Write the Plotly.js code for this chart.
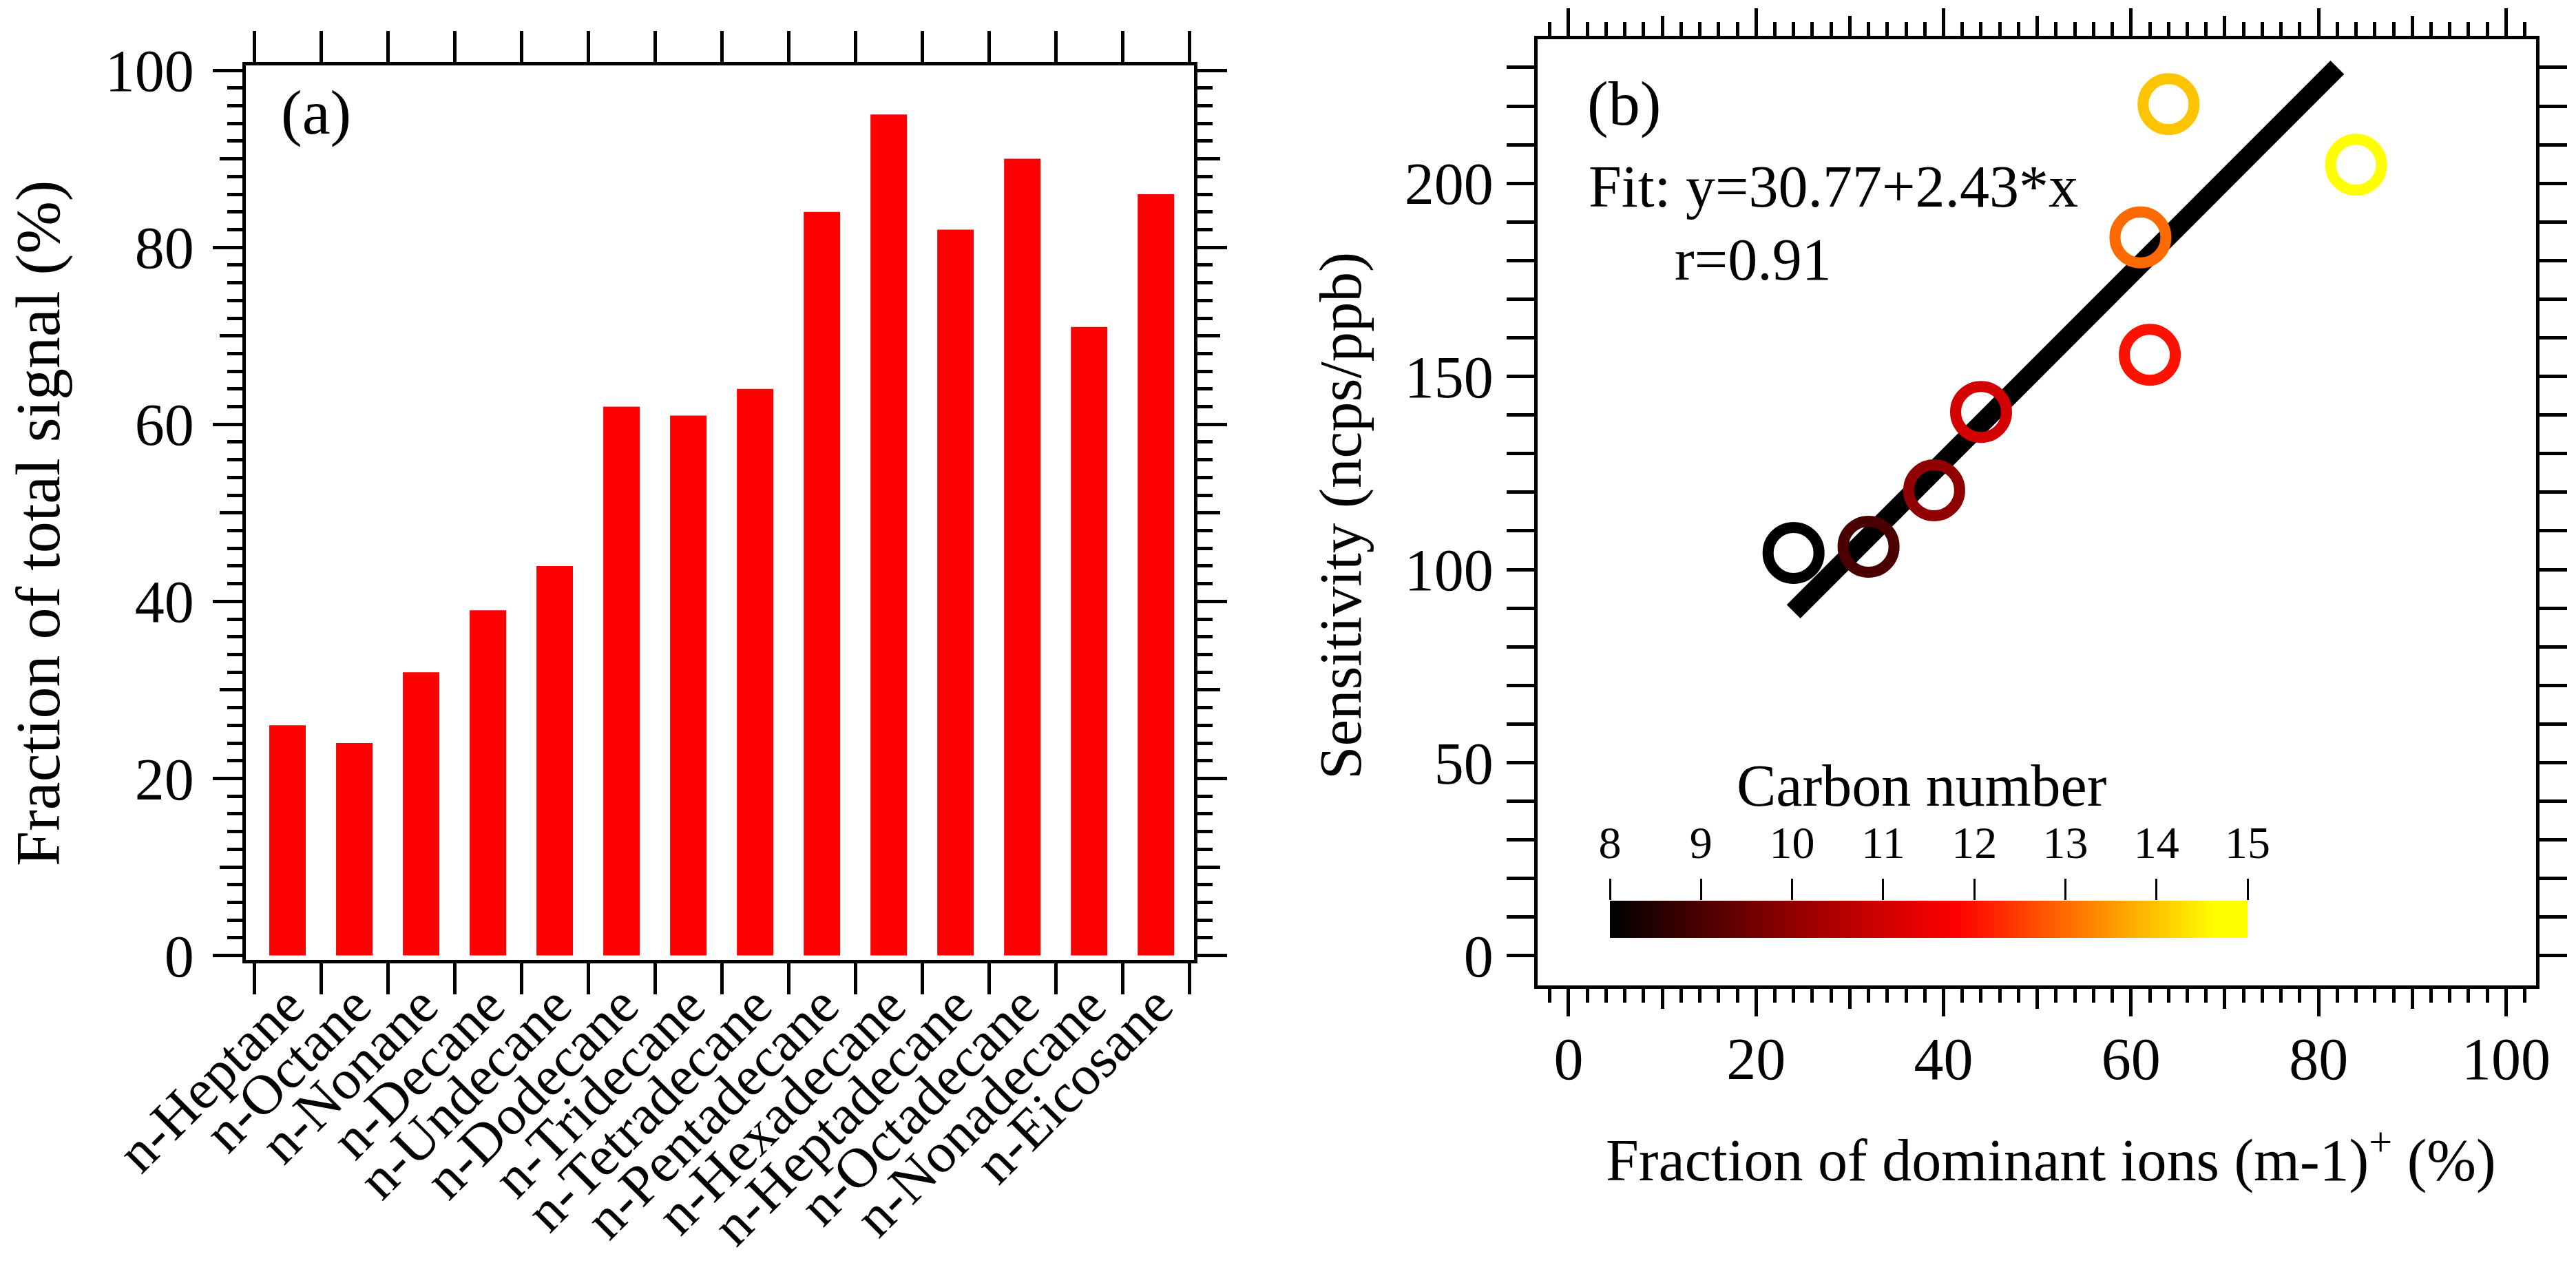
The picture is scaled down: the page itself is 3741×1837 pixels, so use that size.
<!DOCTYPE html>
<html>
<head>
<meta charset="utf-8">
<script src="https://cdn.plot.ly/plotly-3.0.1.min.js"></script>
<style>
  html, body { margin: 0; padding: 0; background: #fff; }
  #chart { width: 3741px; height: 1837px; }
</style>
</head>
<body>
<div id="chart"></div>
<script>
// (a) fraction of total signal per alkane
const compounds = ["n-Heptane", "n-Octane", "n-Nonane", "n-Decane", "n-Undecane",
  "n-Dodecane", "n-Tridecane", "n-Tetradecane", "n-Pentadecane", "n-Hexadecane",
  "n-Heptadecane", "n-Octadecane", "n-Nonadecane", "n-Eicosane"];
const fracSignal = [26, 24, 32, 39, 44, 62, 61, 64, 84, 95, 82, 90, 71, 86];

// (b) sensitivity vs fraction of dominant ions, coloured by carbon number
const carbonNum   = [8, 9, 10, 11, 12, 13, 14, 15];
const ionFrac     = [24, 32, 39, 44, 62, 61, 64, 84];
const sensitivity = [104.3, 105.9, 120.5, 140.8, 155.6, 186.0, 220.5, 204.8];

// linear fit as printed on the figure
const fitIntercept = 30.77;
const fitSlope = 2.43;
const fitX = [24, 82];

const W = 3741, H = 1837;
const px = v => v / W;            // page x pixel -> paper
const py = v => (H - v) / H;      // page y pixel -> paper

const FONT = "Liberation Serif, Times New Roman, serif";
const black = "#000";

const hotScale = [
  [0, "#000000"], [0.143, "#4a0000"], [0.286, "#900000"], [0.429, "#d20000"],
  [0.545, "#ff0000"], [0.714, "#ff6a00"], [0.857, "#ffc400"], [0.95, "#ffff00"],
  [1, "#ffff00"]
];

// colour bar geometry (page pixels)
const cbLeft = 2338, cbRight = 3264, cbTop = 1308, cbBottom = 1362;

const frame = {
  showline: true, linewidth: 5, linecolor: black, mirror: "allticks",
  ticks: "outside", tickwidth: 5, tickcolor: black,
  showgrid: false, zeroline: false, fixedrange: true,
};

const traces = [
  { type: "bar", x: compounds, y: fracSignal, xaxis: "x", yaxis: "y",
    marker: { color: "#ff0000", line: { width: 0 } }, hoverinfo: "skip" },
  // holder traces for the medium-tick overlay axes and the colour bar scale
  { type: "scatter", x: [], y: [], xaxis: "x", yaxis: "y3", hoverinfo: "skip" },
  { type: "scatter", x: [], y: [], xaxis: "x3", yaxis: "y2", hoverinfo: "skip" },
  { type: "scatter", x: [], y: [], xaxis: "x4", yaxis: "y4", hoverinfo: "skip" },
  { type: "scatter", mode: "lines", x: fitX, y: fitX.map(v => fitIntercept + fitSlope * v),
    xaxis: "x2", yaxis: "y2", line: { color: black, width: 28 }, hoverinfo: "skip" },
  { type: "scatter", mode: "markers", x: ionFrac, y: sensitivity,
    xaxis: "x2", yaxis: "y2", hoverinfo: "skip",
    marker: {
      symbol: "circle-open", size: 74, color: carbonNum,
      colorscale: hotScale, cmin: 8, cmax: 15, showscale: true,
      line: { width: 16 },
      colorbar: {
        orientation: "h", x: px((cbLeft + cbRight) / 2), xanchor: "center",
        y: py(cbBottom), yanchor: "bottom",
        len: cbRight - cbLeft, lenmode: "pixels",
        thickness: cbBottom - cbTop, thicknessmode: "pixels",
        outlinewidth: 0, xpad: 0, ypad: 0,
        ticks: "", showticklabels: false,
      },
    } },
];

const layout = {
  width: W, height: H,
  margin: { l: 0, r: 0, t: 0, b: 0 },
  paper_bgcolor: "#fff", plot_bgcolor: "#fff",
  font: { family: FONT, size: 86, color: black },
  showlegend: false,
  bargap: 0.454,
  xaxis: { ...frame, domain: [px(357), px(1734)], anchor: "y",
    type: "category", range: [-0.624, 13.57], tickson: "boundaries", dtick: 1,
    ticklen: 45, tickangle: -45, ticklabelstandoff: -20, tickfont: { size: 82 } },
  yaxis: { ...frame, domain: [py(1394), py(95)], anchor: "x",
    range: [-0.5, 100.55], tick0: 0, dtick: 20, ticklen: 43, ticklabelstandoff: 10,
    minor: { dtick: 2, ticks: "outside", ticklen: 22, tickwidth: 5, tickcolor: black, showgrid: false } },
  yaxis3: { ...frame, overlaying: "y", anchor: "x", side: "left", mirror: "ticks",
    range: [-0.5, 100.55], tick0: 0, dtick: 10, ticklen: 33, showticklabels: false },
  xaxis2: { ...frame, domain: [px(2233), px(3683)], anchor: "y2",
    range: [-3.3, 103.2], tick0: 0, dtick: 20, ticklen: 40, ticklabelstandoff: -12,
    minor: { dtick: 2, ticks: "outside", ticklen: 20, tickwidth: 5, tickcolor: black, showgrid: false } },
  xaxis3: { ...frame, overlaying: "x2", anchor: "y2", side: "bottom", mirror: "ticks",
    range: [-3.3, 103.2], tick0: 0, dtick: 10, ticklen: 29, showticklabels: false },
  yaxis2: { ...frame, domain: [py(1431), py(57)], anchor: "x2",
    range: [-7.7, 237.3], tick0: 0, dtick: 50, ticklen: 40, ticklabelstandoff: 2,
    minor: { dtick: 10, ticks: "outside", ticklen: 20, tickwidth: 5, tickcolor: black, showgrid: false } },
  // scale printed above the colour bar
  xaxis4: { domain: [px(cbLeft), px(cbRight)], anchor: "y4", side: "top",
    range: [8, 15], tick0: 8, dtick: 1, ticks: "outside", ticklen: 31, tickwidth: 3,
    tickcolor: black, showline: false, showgrid: false, zeroline: false, fixedrange: true,
    tickfont: { size: 66 }, ticklabelstandoff: 4 },
  yaxis4: { domain: [py(cbBottom), py(cbTop)], anchor: "x4", range: [0, 1], visible: false, fixedrange: true },
  annotations: [
    { text: "Fraction of total signal (%)", textangle: -90, xref: "paper", yref: "paper",
      x: px(55), y: py(760), xanchor: "center", yanchor: "middle", showarrow: false,
      font: { size: 92 } },
    { text: "Sensitivity (ncps/ppb)", textangle: -90, xref: "paper", yref: "paper",
      x: px(1946), y: py(749), xanchor: "center", yanchor: "middle", showarrow: false,
      font: { size: 87 } },
    { text: "Fraction of dominant ions (m-1)<sup>+</sup> (%)", xref: "paper", yref: "paper",
      x: px(2978), y: py(1678), xanchor: "center", yanchor: "middle", showarrow: false },
    { text: "Carbon number", xref: "paper", yref: "paper",
      x: px(2790), y: py(1141), xanchor: "center", yanchor: "middle", showarrow: false },
    { text: "(a)", xref: "paper", yref: "paper", x: px(406), y: py(163),
      xanchor: "left", yanchor: "middle", showarrow: false, font: { size: 92 } },
    { text: "(b)", xref: "paper", yref: "paper", x: px(2303), y: py(150),
      xanchor: "left", yanchor: "middle", showarrow: false, font: { size: 92 } },
    { text: "Fit: y=30.77+2.43*x", xref: "paper", yref: "paper", x: px(2305), y: py(271),
      xanchor: "left", yanchor: "middle", showarrow: false },
    { text: "r=0.91", xref: "paper", yref: "paper", x: px(2430), y: py(377),
      xanchor: "left", yanchor: "middle", showarrow: false },
  ],
};

Plotly.newPlot("chart", traces, layout, { displayModeBar: false, staticPlot: true });
</script>
</body>
</html>
